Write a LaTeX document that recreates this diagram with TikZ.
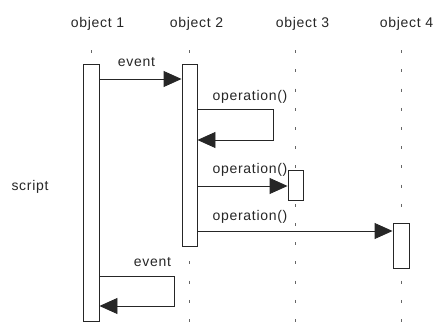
\documentclass[tikz,border=0pt]{standalone}
\usepackage{fontspec}
\setmainfont{Liberation Sans}[LetterSpace=5]
\usetikzlibrary{arrows.meta}
\begin{document}
\begin{tikzpicture}[x=1pt,y=-1pt,
  lbl/.style={font=\fontsize{14}{16}\selectfont, inner sep=0pt, anchor=base, text=black!85},
  lifeline/.style={draw=black!60, line width=1pt, dash pattern=on 3pt off 16.2pt},
  actbox/.style={draw=black!85, fill=white, line width=0.9pt, inner sep=0pt, anchor=north},
  msg/.style={draw=black!85, line width=0.9pt, -{Triangle[length=18pt,width=16pt]}}
]
\useasboundingbox (0,0) rectangle (433,336);

% object headings
\node[lbl] (o1) at (97.5,27.7) {object 1};
\node[lbl] (o2) at (196.5,27.7) {object 2};
\node[lbl] (o3) at (302.5,27.7) {object 3};
\node[lbl] (o4) at (406.5,27.7) {object 4};
\node[lbl] (scr) at (30,190.5) {script};

% lifelines
\coordinate (l1a) at (91,50.3);   \coordinate (l1b) at (91,324);
\coordinate (l2a) at (189,50.3);  \coordinate (l2b) at (189,324);
\coordinate (l3a) at (295,50.3);  \coordinate (l3b) at (295,324);
\coordinate (l4a) at (401,50.3);  \coordinate (l4b) at (401,324);
\path[lifeline] (l1a) -- (l1b);
\path[lifeline] (l2a) -- (l2b);
\path[lifeline] (l3a) -- (l3b);
\path[lifeline] (l4a) -- (l4b);

% activation bars
\node[actbox, minimum width=16pt, minimum height=257pt] (a1) at (91,64) {};
\node[actbox, minimum width=15pt, minimum height=182pt] (a2) at (189.5,64) {};
\node[actbox, minimum width=15pt, minimum height=30pt] (a3) at (295.5,170) {};
\node[actbox, minimum width=16pt, minimum height=45pt] (a4) at (401,223) {};

% turning points of the self calls
\coordinate (s2a) at (273,109);
\coordinate (s2b) at (273,140);
\coordinate (s1a) at (174,276);
\coordinate (s1b) at (174,306);

% messages
\draw[msg] (a1.east |- 0,79) -- (a2.west |- 0,79);
\draw[msg] (a2.east |- s2a) -- (s2a) -- (s2b) -- (a2.east |- s2b);
\draw[msg] (a2.east |- 0,186) -- (a3.west |- 0,186);
\draw[msg] (a2.east |- 0,231) -- (a4.west |- 0,231);
\draw[msg] (a1.east |- s1a) -- (s1a) -- (s1b) -- (a1.east |- s1b);

% message labels
\node[lbl] (e1) at (136.5,66.7) {event};
\node[lbl] (op1) at (250,100.3) {operation()};
\node[lbl] (op2) at (250,173.3) {operation()};
\node[lbl] (op3) at (250,220.7) {operation()};
\node[lbl] (e2) at (152.5,266.7) {event};
\end{tikzpicture}
\end{document}
